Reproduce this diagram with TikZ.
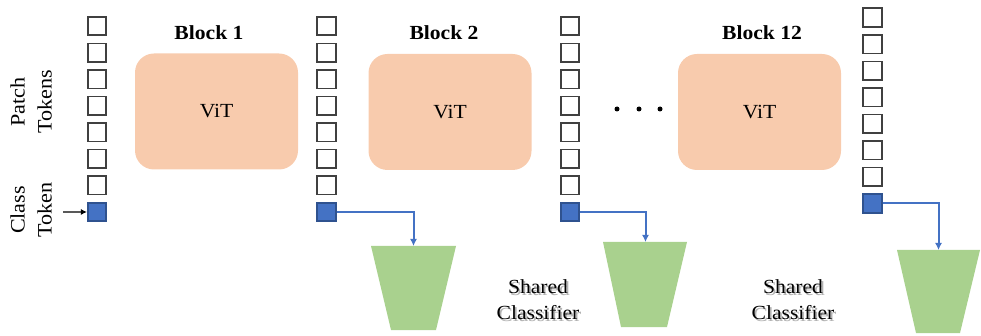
\documentclass[tikz,border=0pt]{standalone}
\usepackage{fontspec}
\setmainfont{Liberation Serif}[FakeStretch=1.08]
\usetikzlibrary{arrows.meta}

\definecolor{vitpeach}{HTML}{F8CBAD}
\definecolor{clsgreen}{HTML}{A9D18E}
\definecolor{clsblue}{HTML}{4472C4}
\definecolor{clsedge}{HTML}{2F528F}
\definecolor{tokgray}{HTML}{404040}

\tikzset{
  tok/.style={draw=tokgray, line width=1.6pt, fill=white, minimum size=18.5pt, inner sep=0pt},
  clstok/.style={tok, draw=clsedge, fill=clsblue},
  vitblock/.style={fill=vitpeach, rounded corners=19pt, minimum width=163pt,
                   minimum height=116pt, inner sep=0pt, font=\fontsize{20}{23}\selectfont},
  blocklabel/.style={font=\fontsize{20}{23}\selectfont\bfseries},
  sidelabel/.style={rotate=90, align=center, font=\fontsize{20.5}{27}\selectfont},
  head/.style={fill=clsgreen},
  feed/.style={draw=clsblue, line width=2pt, -{Latex[length=7pt,width=7pt]}},
  sharedlabel/.style={align=center, font=\fontsize{20}{26}\selectfont},
  shadowlabel/.style={sharedlabel, text=black!30},
  dot/.style={circle, fill=black, minimum size=5pt, inner sep=0pt},
}

\begin{document}
\begin{tikzpicture}[x=1pt, y=-1pt]
  \useasboundingbox (0,0) rectangle (981,336);

  % token columns: x centre, y centre of the top token
  \foreach \c/\x/\y in {1/97/26, 2/326.5/26, 3/570/26, 4/872.5/17.5} {
    \foreach \i in {1,...,7} {
      \node[tok] (t\c-\i) at (\x, {\y + (\i-1)*26.57}) {};
    }
    \node[clstok] (t\c-8) at (\x, {\y + 7*26.57}) {};
  }

  % transformer blocks
  \node[vitblock] (vit1) at (216.5,111.5) {ViT};
  \node[vitblock] (vit2) at (450,112)     {ViT};
  \node[vitblock] (vit3) at (759.5,112)   {ViT};

  \node[blocklabel] (lab1) at (209,33) {Block 1};
  \node[blocklabel] (lab2) at (444,33) {Block 2};
  \node[blocklabel] (lab3) at (762,33) {Block 12};

  % ellipsis between blocks
  \node[dot] (d1) at (617,109) {};
  \node[dot] (d2) at (639,109) {};
  \node[dot] (d3) at (660,109) {};

  % side labels
  \node[sidelabel] (patchlab) at (31,102) {Patch\\Tokens};
  \node[sidelabel] (clslab)   at (31,210) {Class\\Token};

  % input arrow into the class token
  \coordinate (cin) at (63,212);
  \draw[line width=1.4pt, -{Latex[length=6pt,width=6pt]}] (cin) -- (t1-8.west);

  % shared classifier heads (inverted trapezoids), with their top midpoints
  \fill[head] (371,246) -- (456,246) -- (436,330) -- (391,330) -- cycle;
  \coordinate (h1) at (413.5,246);
  \fill[head] (603,242) -- (687,242) -- (667,327) -- (621,327) -- cycle;
  \coordinate (h2) at (645.5,242);
  \fill[head] (897,250) -- (980,250) -- (960,333) -- (916,333) -- cycle;
  \coordinate (h3) at (938.5,250);

  \draw[feed] (t2-8.east) -| (h1);
  \draw[feed] (t3-8.east) -| (h2);
  \draw[feed] (t4-8.east) -| (h3);

  % labels with a soft drop shadow
  \node[shadowlabel] at (539.8,301.8) {Shared\\Classifier};
  \node[sharedlabel] (sc1) at (538,300) {Shared\\Classifier};
  \node[shadowlabel] at (794.8,301.8) {Shared\\Classifier};
  \node[sharedlabel] (sc2) at (793,300) {Shared\\Classifier};
\end{tikzpicture}
\end{document}
